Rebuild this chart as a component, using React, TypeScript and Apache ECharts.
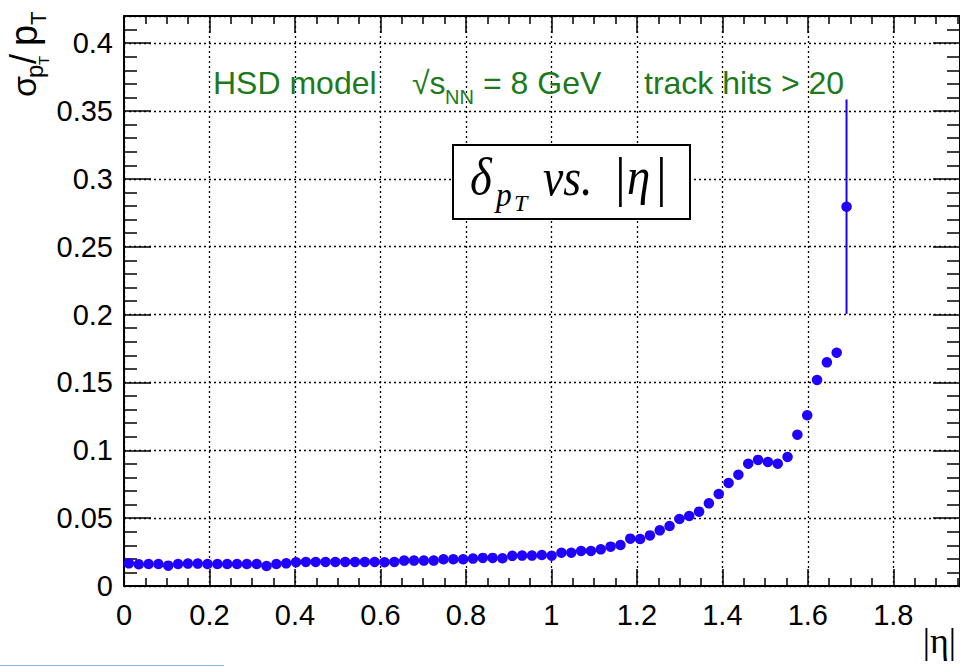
import React, { useEffect, useRef } from 'react';
import * as echarts from 'echarts';

// |eta| bin centres
const etaCenters = [
  0.0115, 0.0345, 0.0575, 0.0805, 0.1035, 0.1265, 0.1495, 0.1725, 0.1955, 0.2185,
  0.2415, 0.2645, 0.2875, 0.3105, 0.3335, 0.3565, 0.3795, 0.4025, 0.4255, 0.4485,
  0.4715, 0.4945, 0.5175, 0.5405, 0.5635, 0.5865, 0.6095, 0.6325, 0.6555, 0.6785,
  0.7015, 0.7245, 0.7475, 0.7705, 0.7935, 0.8165, 0.8395, 0.8625, 0.8855, 0.9085,
  0.9315, 0.9545, 0.9775, 1.0005, 1.0235, 1.0465, 1.0695, 1.0925, 1.1155, 1.1385,
  1.1615, 1.1845, 1.2075, 1.2305, 1.2535, 1.2765, 1.2995, 1.3225, 1.3455, 1.3685,
  1.3915, 1.4145, 1.4375, 1.4605, 1.4835, 1.5065, 1.5295, 1.5525, 1.5755, 1.5985,
  1.6215, 1.6445, 1.6675, 1.6905,
];

// sigma(pT)/pT
const sigmaValues = [
  0.0167, 0.0160, 0.0162, 0.0162, 0.0150, 0.0162, 0.0165, 0.0165, 0.0162, 0.0162,
  0.0162, 0.0162, 0.0162, 0.0162, 0.0147, 0.0162, 0.0167, 0.0175, 0.0177, 0.0177,
  0.0177, 0.0177, 0.0177, 0.0177, 0.0177, 0.0177, 0.0175, 0.0177, 0.0187, 0.0187,
  0.0187, 0.0187, 0.0197, 0.0197, 0.0197, 0.0202, 0.0207, 0.0207, 0.0204, 0.0222,
  0.0224, 0.0224, 0.0228, 0.0223, 0.0245, 0.0245, 0.0258, 0.0258, 0.0270, 0.0290,
  0.0302, 0.0349, 0.0346, 0.0373, 0.0410, 0.0442, 0.0494, 0.0516, 0.0548, 0.0609,
  0.0678, 0.0759, 0.0820, 0.0901, 0.0929, 0.0914, 0.0901, 0.0951, 0.1115, 0.1258,
  0.1518, 0.1648, 0.1719, 0.2795,
];

// statistical errors
const sigmaErrors = [
  0, 0, 0, 0, 0, 0, 0, 0, 0, 0,
  0, 0, 0, 0, 0, 0, 0, 0, 0, 0,
  0, 0, 0, 0, 0, 0, 0, 0, 0, 0,
  0, 0, 0, 0, 0, 0, 0, 0, 0, 0,
  0, 0, 0, 0, 0, 0, 0, 0, 0, 0,
  0, 0, 0, 0, 0, 0, 0, 0, 0, 0,
  0, 0, 0, 0, 0, 0, 0, 0, 0, 0,
  0.0015, 0.0025, 0.0035, 0.079,
];

const X_MIN = 0;
const X_MAX = 1.956;
const X_STEP = 0.2;
const Y_MIN = 0;
const Y_MAX = 0.42;
const Y_STEP = 0.05;

const BLUE = '#2000ff';
const GREEN = '#1c7a1c';
const SANS = '"Liberation Sans", Arial, Helvetica, sans-serif';
const SERIF = '"Liberation Serif", "Times New Roman", serif';

const fmtStep = (step: number) => (v: number) => {
  const r = v / step;
  if (Math.abs(r - Math.round(r)) > 1e-6) return '';
  return String(+v.toFixed(3));
};

function txt(x: number, y: number, text: string, fontSize: number, extra: any = {}) {
  const { fontFamily, fontStyle, fill, align, ...rest } = extra;
  return {
    type: 'text',
    x,
    y,
    z: 100,
    ...rest,
    style: {
      text,
      fontSize,
      fontFamily: fontFamily || SANS,
      fontStyle: fontStyle || 'normal',
      fill: fill || '#000',
      align: align || 'left',
      verticalAlign: 'middle',
    },
  };
}

export default function App() {
  const ref = useRef<HTMLDivElement>(null);

  useEffect(() => {
    if (!ref.current) return;
    const chart = echarts.init(ref.current, null, { renderer: 'svg' });

    const axisBase = {
      type: 'value',
      axisLine: { show: true, onZero: false, lineStyle: { color: '#000', width: 2 } },
    };

    const option: any = {
      animation: false,
      backgroundColor: '#fff',
      grid: { left: 124, top: 16, right: -4, bottom: 81, containLabel: false },
      xAxis: [
        {
          ...axisBase,
          min: X_MIN,
          max: X_MAX,
          interval: X_STEP,
          position: 'bottom',
          axisTick: { show: true, inside: true, length: 17, lineStyle: { color: '#000', width: 1.5 } },
          minorTick: { show: true, splitNumber: 4, length: 8, lineStyle: { color: '#000', width: 1.5 } },
          splitLine: { show: true, lineStyle: { color: '#000', type: [2, 3], width: 1.3 } },
          axisLabel: {
            show: true,
            margin: 14,
            fontSize: 29,
            color: '#000',
            fontFamily: SANS,
            formatter: fmtStep(X_STEP),
            showMaxLabel: false,
          },
        },
        {
          ...axisBase,
          min: X_MIN,
          max: X_MAX,
          interval: X_STEP,
          position: 'top',
          axisTick: { show: true, inside: true, length: 17, lineStyle: { color: '#000', width: 1.5 } },
          minorTick: { show: true, splitNumber: 4, length: 8, lineStyle: { color: '#000', width: 1.5 } },
          splitLine: { show: false },
          axisLabel: { show: false },
        },
      ],
      yAxis: [
        {
          ...axisBase,
          min: Y_MIN,
          max: Y_MAX,
          interval: Y_STEP,
          position: 'left',
          axisTick: { show: true, inside: true, length: 27, lineStyle: { color: '#000', width: 1.5 } },
          minorTick: { show: true, splitNumber: 5, length: 13, lineStyle: { color: '#000', width: 1.5 } },
          splitLine: { show: true, lineStyle: { color: '#000', type: [2, 3], width: 1.3 } },
          axisLabel: {
            show: true,
            margin: 11,
            fontSize: 29,
            color: '#000',
            fontFamily: SANS,
            formatter: fmtStep(Y_STEP),
            showMaxLabel: false,
          },
        },
        {
          ...axisBase,
          min: Y_MIN,
          max: Y_MAX,
          interval: Y_STEP,
          position: 'right',
          axisTick: { show: true, inside: true, length: 27, lineStyle: { color: '#000', width: 1.5 } },
          minorTick: { show: true, splitNumber: 5, length: 13, lineStyle: { color: '#000', width: 1.5 } },
          splitLine: { show: false },
          axisLabel: { show: false },
        },
      ],
      series: [
        {
          type: 'custom',
          xAxisIndex: 0,
          yAxisIndex: 0,
          z: 3,
          data: etaCenters.map((x, i) => [x, sigmaValues[i], sigmaErrors[i]]),
          renderItem: (_params: any, api: any) => {
            const x = api.value(0);
            const y = api.value(1);
            const e = api.value(2);
            if (!e) return { type: 'group', children: [] };
            const top = api.coord([x, y + e]);
            const bot = api.coord([x, y - e]);
            return {
              type: 'line',
              shape: { x1: top[0], y1: top[1], x2: bot[0], y2: bot[1] },
              style: { stroke: BLUE, lineWidth: 2 },
            };
          },
        },
        {
          type: 'scatter',
          xAxisIndex: 0,
          yAxisIndex: 0,
          z: 4,
          symbol: 'circle',
          symbolSize: 10.5,
          itemStyle: { color: BLUE, opacity: 1 },
          data: etaCenters.map((x, i) => [x, sigmaValues[i]]),
        },
      ],
      graphic: [
        // green annotation
        txt(213, 83, 'HSD model', 32, { fill: GREEN }),
        txt(412, 83, '\u221As', 32, { fill: GREEN }),
        txt(445, 97, 'NN', 20, { fill: GREEN }),
        txt(483, 83, '= 8 GeV', 32, { fill: GREEN }),
        txt(644, 83, 'track hits > 20', 32, { fill: GREEN }),
        // boxed label
        {
          type: 'rect',
          z: 99,
          shape: { x: 453, y: 145, width: 237, height: 74 },
          style: { fill: '#fff', stroke: '#000', lineWidth: 2 },
        },
        txt(470, 177, '\u03B4', 52, { fontFamily: SERIF, fontStyle: 'italic', scaleX: 0.9 }),
        txt(496, 195, 'p', 33, { fontFamily: SERIF, fontStyle: 'italic', scaleX: 0.95 }),
        txt(514, 203, 'T', 24, { fontFamily: SERIF, fontStyle: 'italic' }),
        txt(543, 177, 'vs.', 52, { fontFamily: SERIF, fontStyle: 'italic', scaleX: 0.88 }),
        txt(615, 177, '|', 54, { fontFamily: SERIF }),
        txt(627, 177, '\u03B7', 52, { fontFamily: SERIF, fontStyle: 'italic', scaleX: 0.9 }),
        txt(656, 177, '|', 54, { fontFamily: SERIF }),
        // y-axis title (rotated)
        {
          type: 'group',
          x: 36,
          y: 97,
          rotation: Math.PI / 2,
          z: 100,
          children: [
            txt(0, -12, '\u03C3', 34),
            txt(19, -1.5, 'p', 24),
            txt(32, 7.5, 'T', 15),
            txt(33, -13, '/', 36),
            txt(51, -12, 'p', 38),
            txt(72, 2, 'T', 22),
          ],
        },
        // x-axis title
        txt(956, 641, '|\u03B7|', 36, { fontFamily: SERIF, align: 'right' }),
        // thin light-blue line at the bottom edge
        {
          type: 'line',
          z: 100,
          shape: { x1: 0, y1: 665.5, x2: 224, y2: 665.5 },
          style: { stroke: '#8fb4e6', lineWidth: 1 },
        },
      ],
    };

    chart.setOption(option);
    return () => chart.dispose();
  }, []);

  return (
    <div
      ref={ref}
      style={{ position: 'fixed', left: 0, top: 0, width: 960, height: 667, background: '#fff' }}
    />
  );
}
